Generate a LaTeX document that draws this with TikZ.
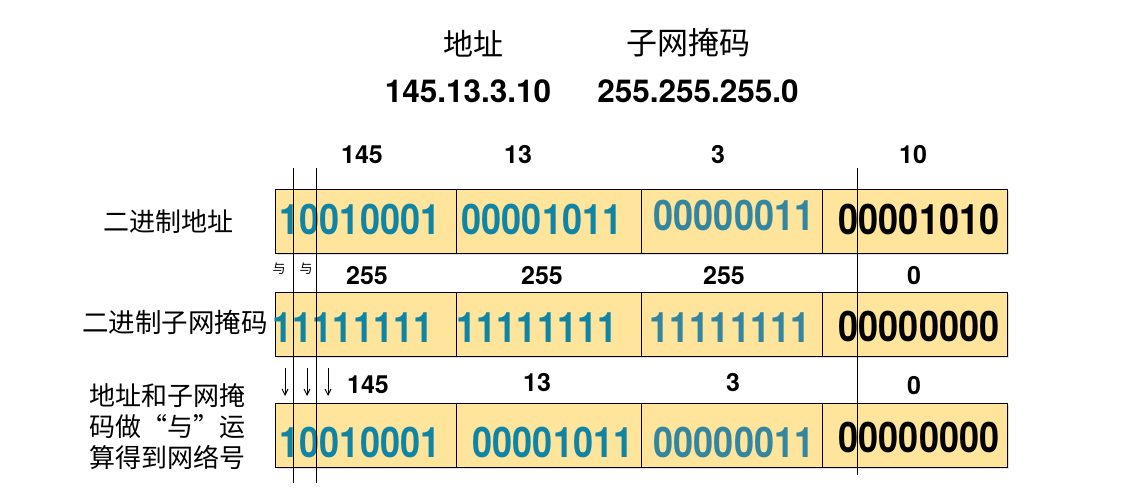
\documentclass[tikz,border=0pt]{standalone}
\usepackage{fontspec}
\setmainfont{TeX Gyre Heros}
\newfontfamily\cjk{Noto Sans CJK SC}
\newfontfamily\binf[FakeStretch=0.86]{TeX Gyre Heros}
\usetikzlibrary{arrows.meta,shadows}
\definecolor{boxfill}{RGB}{255,228,156}
\definecolor{tealA}{RGB}{16,132,165}
\definecolor{tealB}{RGB}{52,134,160}
\begin{document}
\begin{tikzpicture}[x=1pt,y=-1pt,
  cell/.style={draw=black, line width=0.9pt, fill=boxfill, minimum height=64pt, inner sep=0pt, anchor=north west,
    drop shadow={shadow xshift=1.5pt, shadow yshift=-1.5pt, opacity=0.25, fill=gray}},
  wA/.style={cell, minimum width=181pt},
  wB/.style={cell, minimum width=185pt},
  bin/.style={font=\binf\bfseries\fontsize{42}{42}\selectfont, inner sep=0pt},
  binA/.style={bin, text=tealA},
  binB/.style={bin, text=tealB},
  binK/.style={bin, text=black},
  num/.style={font=\bfseries\fontsize{25}{25}\selectfont, inner sep=0pt},
  big/.style={font=\bfseries\fontsize{31.5}{31.5}\selectfont, inner sep=0pt},
  title/.style={font=\cjk\fontsize{30}{30}\selectfont, inner sep=0pt},
  rowlab/.style={font=\cjk\fontsize{26}{31}\selectfont, inner sep=0pt},
  andlab/.style={font=\cjk\fontsize{13}{13}\selectfont, inner sep=0pt},
  vline/.style={draw=black, line width=0.9pt},
  arr/.style={draw=black, line width=0.9pt, -{Straight Barb[length=6pt,width=6pt]}}
]
\useasboundingbox (0,0) rectangle (1128,500);
% titles
\node[title] (tAddr) at (473,44) {地址};
\node[title, font=\cjk\fontsize{31}{31}\selectfont] (tMask) at (688,43) {子网掩码};
\node[big] (vAddr) at (468,91) {145.13.3.10};
\node[big] (vMask) at (698,91) {255.255.255.0};
% row labels
\node[rowlab] (l1) at (168,222) {二进制地址};
\node[rowlab, font=\cjk\fontsize{26.5}{31}\selectfont] (l2) at (175,322) {二进制子网掩码};
\node[rowlab, align=left, anchor=west] (l3) at (89,427) {地址和子网掩\\码做“与”运\\算得到网络号};
% row 1 cells
\node[wA] (r1c1) at (275,189) {};
\node[wB] (r1c2) at (456,189) {};
\node[wA] (r1c3) at (641,189) {};
\node[wB] (r1c4) at (822,189) {};
% row 2 cells
\node[wA] (r2c1) at (275,292) {};
\node[wB] (r2c2) at (456,292) {};
\node[wA] (r2c3) at (641,292) {};
\node[wB] (r2c4) at (822,292) {};
% row 3 cells
\node[wA] (r3c1) at (275,403) {};
\node[wB] (r3c2) at (456,403) {};
\node[wA] (r3c3) at (641,403) {};
\node[wB] (r3c4) at (822,403) {};
% column numbers
\node[num] (n11) at (362,155) {145};
\node[num] (n12) at (518,155) {13};
\node[num] (n13) at (718,155) {3};
\node[num] (n14) at (913,155) {10};
\node[num] (n21) at (367,276) {255};
\node[num] (n22) at (542,276) {255};
\node[num] (n23) at (724,276) {255};
\node[num] (n24) at (914,276) {0};
\node[num] (n31) at (368,385) {145};
\node[num] (n32) at (537,383) {13};
\node[num] (n33) at (733,383) {3};
\node[num] (n34) at (914,386) {0};
% binary texts
\node[binA] (b11) at (360,219) {10010001};
\node[binA] (b12) at (542,219) {00001011};
\node[binB] (b13) at (734,215) {00000011};
\node[binK] (b14) at (919,219) {00001010};
\node[binA] (b21) at (353,328) {11111111};
\node[binA] (b22) at (537,328) {11111111};
\node[binB] (b23) at (730,328) {11111111};
\node[binK] (b24) at (919,326) {00000000};
\node[binA] (b31) at (360,442) {10010001};
\node[binA] (b32) at (553,442) {00001011};
\node[binB] (b33) at (734,442) {00000011};
\node[binK] (b34) at (919,437) {00000000};
% "and" labels
\node[andlab] (a1) at (279,269) {与};
\node[andlab] (a2) at (306,269) {与};
% vertical lines
\coordinate (v1t) at (293,168); \coordinate (v1b) at (293,483);
\coordinate (v2t) at (316,168); \coordinate (v2b) at (316,483);
\coordinate (v3t) at (857,168); \coordinate (v3b) at (857,475);
\draw[vline] (v1t) -- (v1b);
\draw[vline] (v2t) -- (v2b);
\draw[vline] (v3t) -- (v3b);
% arrows
\coordinate (a1t) at (285,368); \coordinate (a1b) at (285,396);
\coordinate (a2t) at (307,368); \coordinate (a2b) at (307,396);
\coordinate (a3t) at (328,368); \coordinate (a3b) at (328,396);
\draw[arr] (a1t) -- (a1b);
\draw[arr] (a2t) -- (a2b);
\draw[arr] (a3t) -- (a3b);
\end{tikzpicture}
\end{document}
